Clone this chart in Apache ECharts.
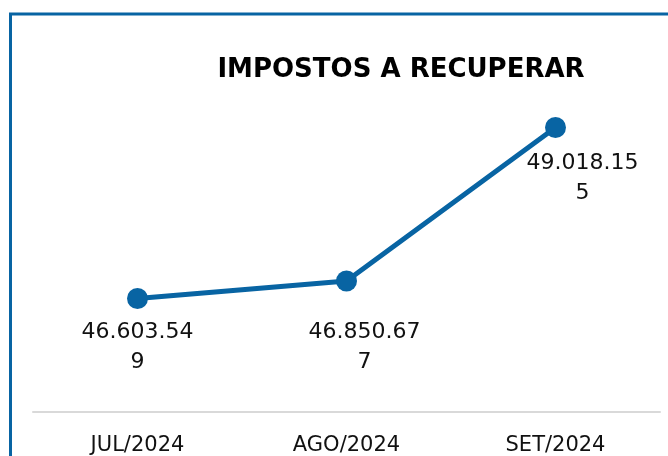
<!DOCTYPE html>
<html>
<head>
<meta charset="utf-8">
<script src="https://cdn.jsdelivr.net/npm/echarts@6/dist/echarts.min.js"></script>
<style>
    html, body { margin: 0; padding: 0; background: #fff; }
    #chart { width: 668px; height: 456px; }
</style>
</head>
<body>
<div id="chart"></div>
<script>
    var meses = ['JUL/2024', 'AGO/2024', 'SET/2024'];
    var valores = [46603549, 46850677, 49018155];
    // deslocamento dos rótulos [x, y], como no original
    var deslocRotulo = [[0, 1], [18, 19], [27, 3]];

    var azul = '#0864a3';
    var fonte = '"DejaVu Sans", sans-serif';

    function formatarBR(v) {
        return String(v).replace(/\B(?=(\d{3})+(?!\d))/g, '.');
    }

    // quebra o texto depois de 9 caracteres (como no excel)
    function quebrar(txt) {
        return txt.length > 9 ? txt.slice(0, 9) + '\n' + txt.slice(9) : txt;
    }

    var dados = [];
    for (var i = 0; i < valores.length; i++) {
        dados.push({
            value: valores[i],
            label: { offset: deslocRotulo[i] }
        });
    }

    var myChart = echarts.init(document.getElementById('chart'));
    var option = {
        animation: false,
        title: {
            text: 'IMPOSTOS A RECUPERAR',
            left: 396,
            top: 52,
            textAlign: 'center',
            textStyle: {
                fontFamily: fonte,
                fontWeight: 'bold',
                fontSize: 26,
                color: '#000'
            }
        },
        graphic: [
            {
                type: 'polyline',
                shape: { points: [[10.5, 456], [10.5, 14], [668, 14]] },
                style: { stroke: azul, lineWidth: 3, fill: null }
            }
        ],
        grid: {
            left: 33,
            right: 8,
            top: 58,
            bottom: 42
        },
        xAxis: {
            type: 'category',
            data: meses,
            axisLine: { lineStyle: { color: '#d9d9d9', width: 2 } },
            axisTick: { show: false },
            axisLabel: {
                margin: 23,
                fontFamily: fonte,
                fontSize: 21,
                color: '#111'
            }
        },
        yAxis: {
            type: 'value',
            min: 45000000,
            max: 50000000,
            show: false,
            splitLine: { show: false }
        },
        series: [
            {
                type: 'line',
                data: dados,
                symbol: 'circle',
                symbolSize: 21,
                lineStyle: { color: azul, width: 5 },
                itemStyle: { color: azul },
                label: {
                    show: true,
                    position: 'bottom',
                    distance: 7,
                    fontFamily: fonte,
                    fontSize: 22,
                    lineHeight: 30,
                    color: '#111',
                    align: 'center',
                    formatter: function (p) {
                        return quebrar(formatarBR(p.value));
                    }
                }
            }
        ]
    };
    myChart.setOption(option);
</script>
</body>
</html>
